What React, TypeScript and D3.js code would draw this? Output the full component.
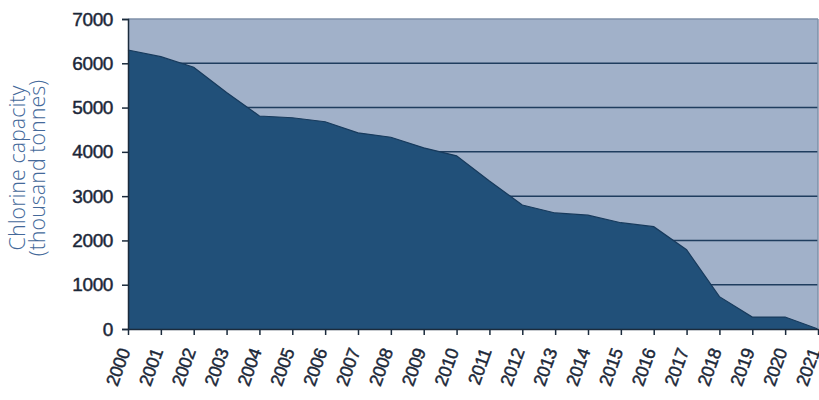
import React, { useEffect, useRef } from 'react';
import * as d3 from 'd3';

const years = [2000, 2001, 2002, 2003, 2004, 2005, 2006, 2007, 2008, 2009, 2010, 2011, 2012, 2013, 2014, 2015, 2016, 2017, 2018, 2019, 2020, 2021];
const capacity = [6300, 6150, 5910, 5340, 4810, 4770, 4680, 4430, 4330, 4090, 3910, 3340, 2800, 2620, 2570, 2400, 2310, 1790, 730, 270, 270, 0];
const yTicks = [0, 1000, 2000, 3000, 4000, 5000, 6000, 7000];
const titleLines = ['Chlorine capacity', '(thousand tonnes)'];

const W = 819;
const H = 400;

export default function App() {
  const svgRef = useRef<SVGSVGElement>(null);

  useEffect(() => {
    if (!svgRef.current) return;
    const svg = d3.select(svgRef.current);
    svg.selectAll('*').remove();

    const margin = { top: 19, right: 1, bottom: 71, left: 128 };
    const innerW = W - margin.left - margin.right;
    const innerH = H - margin.top - margin.bottom;

    const x = d3.scaleLinear().domain([2000, 2021]).range([0, innerW]);
    const y = d3.scaleLinear().domain([0, 7000]).range([innerH, 0]);

    const g = svg.append('g').attr('transform', `translate(${margin.left},${margin.top})`);

    // plot background
    g.append('rect')
      .attr('x', 0).attr('y', 0)
      .attr('width', innerW).attr('height', innerH)
      .attr('fill', '#a1b1c9');

    // grid lines
    g.selectAll('.grid')
      .data(yTicks.filter(d => d > 0))
      .enter()
      .append('line')
      .attr('x1', 0).attr('x2', innerW)
      .attr('y1', d => y(d)).attr('y2', d => y(d))
      .attr('stroke', d => (d === 7000 ? '#7f90a8' : '#1f3d5e'))
      .attr('stroke-width', 1.5);

    // area
    const area = d3.area<number>()
      .x((_, i) => x(years[i]))
      .y0(innerH)
      .y1(d => y(d));

    g.append('path')
      .datum(capacity)
      .attr('fill', '#215079')
      .attr('d', area);

    g.append('path')
      .datum(capacity)
      .attr('fill', 'none')
      .attr('stroke', '#173a5c')
      .attr('stroke-width', 1.2)
      .attr('d', d3.line<number>().x((_, i) => x(years[i])).y(d => y(d)));

    // right border
    g.append('line')
      .attr('x1', innerW).attr('x2', innerW)
      .attr('y1', 0).attr('y2', innerH)
      .attr('stroke', '#7f90a8').attr('stroke-width', 1.5);

    const tickFont = (sel: any, size: number) =>
      sel.attr('fill', '#1b2738')
        .attr('stroke', '#1b2738')
        .attr('stroke-width', 0.45)
        .style('font-family', '"Liberation Sans", Arial, sans-serif')
        .style('font-size', `${size}px`)
        .style('letter-spacing', '-0.4px');

    // y axis
    const yAxis = g.append('g')
      .call(d3.axisLeft(y).tickValues(yTicks).tickSize(6).tickPadding(9).tickFormat(d3.format('d')));
    yAxis.select('.domain').attr('stroke', '#1b2b3c').attr('stroke-width', 1.5);
    yAxis.selectAll('.tick line').attr('stroke', '#1b2b3c').attr('stroke-width', 1.5);
    tickFont(yAxis.selectAll('.tick text'), 19);

    // x axis
    const xAxis = g.append('g')
      .attr('transform', `translate(0,${innerH})`)
      .call(d3.axisBottom(x).tickValues(years).tickSize(6).tickSizeOuter(0).tickFormat(d3.format('d')));
    xAxis.select('.domain').attr('stroke', '#1b2b3c').attr('stroke-width', 1.5);
    xAxis.selectAll('.tick line').attr('stroke', '#1b2b3c').attr('stroke-width', 1.5);
    tickFont(xAxis.selectAll('.tick text'), 18)
      .attr('text-anchor', 'end')
      .attr('dy', '0.35em')
      .attr('x', 0)
      .attr('y', 0)
      .attr('transform', 'translate(-4,20) rotate(-70)');

    // y title
    const title = svg.append('text')
      .attr('transform', `translate(25,168) rotate(-90)`)
      .attr('text-anchor', 'middle')
      .attr('fill', '#44699a')
      .style('font-family', '"Open Sans", sans-serif')
      .style('font-size', '21.5px')
      .style('font-weight', 300);
    titleLines.forEach((t, i) => {
      title.append('tspan')
        .attr('x', 0)
        .attr('dy', i === 0 ? 0 : '0.95em')
        .text(t);
    });
  }, []);

  return (
    <svg ref={svgRef} width={W} height={H} style={{ position: 'absolute', left: 0, top: 0 }} />
  );
}
